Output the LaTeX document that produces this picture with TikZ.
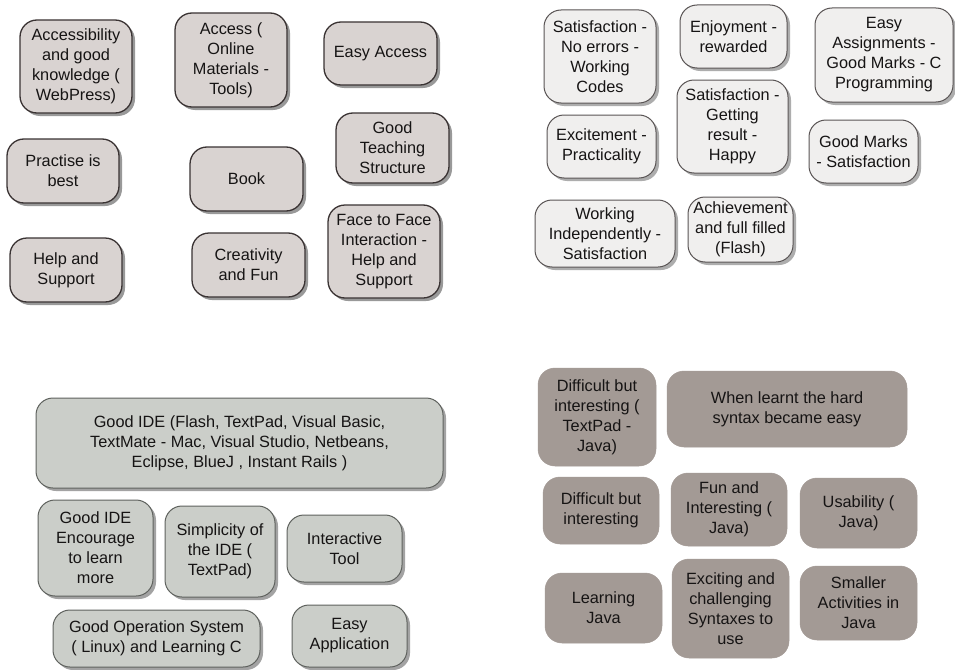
\documentclass[tikz,border=0pt]{standalone}
\usepackage{fontspec}
\setmainfont{Liberation Sans}
\usetikzlibrary{shadows}
\definecolor{tlfill}{HTML}{D9D3D1}
\definecolor{tlline}{HTML}{3A3333}
\definecolor{trfill}{HTML}{F0EFEE}
\definecolor{trline}{HTML}{5A5555}
\definecolor{blfill}{HTML}{CBCEC9}
\definecolor{blline}{HTML}{5F625E}
\definecolor{brfill}{HTML}{A39A95}
\definecolor{txt}{HTML}{161414}
\tikzset{
  card/.style={rounded corners=17pt, align=center, inner sep=0pt, text=txt,
    font=\fontsize{16.3}{20}\selectfont},
  tlbox/.style={card, draw=tlline, line width=1.3pt, fill=tlfill,
    drop shadow={shadow xshift=3pt, shadow yshift=-3pt, fill=black!50, opacity=0.8}},
  trbox/.style={card, draw=trline, line width=1pt, fill=trfill,
    drop shadow={shadow xshift=3pt, shadow yshift=-3pt, fill=black!40, opacity=0.8}},
  blbox/.style={card, draw=blline, line width=1pt, fill=blfill,
    drop shadow={shadow xshift=3pt, shadow yshift=-3pt, fill=black!45, opacity=0.8}},
  brbox/.style={card, draw=brfill, line width=0.5pt, fill=brfill},
}
\newcommand\bx[7]{\node[#6, minimum width={#4-#2}, minimum height={#5-#3}] (#1) at ({(#2+#4)/2},{(#3+#5)/2}) {#7};}
\begin{document}
\begin{tikzpicture}[x=1pt,y=-1pt]
\useasboundingbox[fill=white] (0,0) rectangle (955,669);
% top-left
\bx{a1}{20}{20}{132}{113}{tlbox}{Accessibility\\and good\\knowledge (\\WebPress)}
\bx{a2}{175}{13}{287}{107}{tlbox}{Access (\\Online\\Materials -\\Tools)}
\bx{a3}{324}{22}{437}{85}{tlbox}{Easy Access}
\bx{a4}{7}{139}{119}{203}{tlbox}{Practise is\\best}
\bx{a5}{190}{147}{303}{211}{tlbox}{Book}
\bx{a6}{336}{113}{449}{183}{tlbox}{Good\\Teaching\\Structure}
\bx{a7}{10}{238}{122}{302}{tlbox}{Help and\\Support}
\bx{a8}{192}{233}{305}{297}{tlbox}{Creativity\\and Fun}
\bx{a9}{328}{205}{440}{298}{tlbox}{Face to Face\\Interaction -\\Help and\\Support}
% top-right
\bx{b1}{544}{10}{656}{103}{trbox}{Satisfaction -\\No errors -\\Working\\Codes}
\bx{b2}{680}{5}{787}{68}{trbox}{Enjoyment -\\rewarded}
\bx{b3}{815}{8}{953}{102}{trbox}{Easy\\Assignments -\\Good Marks - C\\Programming}
\bx{b4}{547}{115}{656}{178}{trbox}{Excitement -\\Practicality}
\bx{b5}{677}{80}{788}{173}{trbox}{Satisfaction -\\Getting\\result -\\Happy}
\bx{b6}{809}{120}{918}{183}{trbox}{Good Marks\\- Satisfaction}
\bx{b7}{535}{200}{675}{267}{trbox}{Working\\Independently -\\Satisfaction}
\bx{b8}{688}{197}{793}{262}{trbox}{Achievement\\and full filled\\(Flash)}
% bottom-left
\bx{c1}{36}{398}{443}{488}{blbox}{Good IDE (Flash, TextPad, Visual Basic,\\TextMate - Mac, Visual Studio, Netbeans,\\Eclipse, BlueJ , Instant Rails )}
\bx{c2}{38}{500}{153}{596}{blbox}{Good IDE\\Encourage\\to learn\\more}
\bx{c3}{165}{506}{275}{597}{blbox}{Simplicity of\\the IDE (\\TextPad)}
\bx{c4}{287}{515}{402}{582}{blbox}{Interactive\\Tool}
\bx{c5}{53}{610}{260}{667}{blbox}{Good Operation System\\( Linux) and Learning C}
\bx{c6}{292}{605}{407}{667}{blbox}{Easy\\Application}
% bottom-right
\bx{d1}{538}{368}{656}{466}{brbox}{Difficult but\\interesting (\\TextPad -\\Java)}
\bx{d2}{667}{371}{907}{447}{brbox}{When learnt the hard\\syntax became easy}
\bx{d3}{543}{477}{659}{544}{brbox}{Difficult but\\interesting}
\bx{d4}{671}{473}{787}{546}{brbox}{Fun and\\Interesting (\\Java)}
\bx{d5}{800}{478}{917}{548}{brbox}{Usability (\\Java)}
\bx{d6}{545}{573}{662}{643}{brbox}{Learning\\Java}
\bx{d7}{672}{559}{789}{658}{brbox}{Exciting and\\challenging\\Syntaxes to\\use}
\bx{d8}{800}{566}{917}{640}{brbox}{Smaller\\Activities in\\Java}
\end{tikzpicture}
\end{document}
